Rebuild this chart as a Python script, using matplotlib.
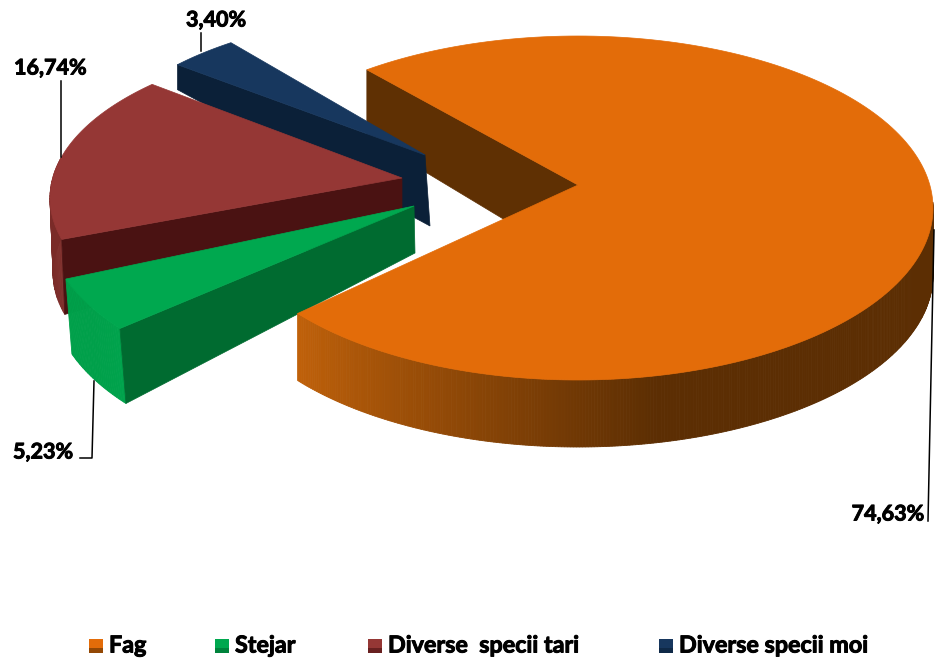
import numpy as np
import matplotlib
matplotlib.use("Agg")
import matplotlib.pyplot as plt
import matplotlib.patheffects as pe
from matplotlib.patches import Polygon, Rectangle
from matplotlib.colors import to_rgb

# data
names = ["Fag", "Stejar", "Diverse  specii tari", "Diverse specii moi"]
values = [74.63, 5.23, 16.74, 3.40]
labels = ["74,63%", "5,23%", "16,74%", "3,40%"]

# look of each slice: top colour, wall colour, rim colour at both ends
top_cols = ["#E36C09", "#00A84F", "#953735", "#17375E"]
wall_cols = ["#5F3003", "#006B30", "#4A1212", "#0B2038"]
rim_cols = [("#C0610A", "#5C2E03"), ("#00A34C", "#00A04A"), ("#80302D", "#7A2B28"), ("#0B2038", "#0B2038")]

# shape of each slice in pixels: apex x,y, ellipse cx,cy,rx,ry, angle shift, rim depth, apex depth, rim drift
shape = [
    (578, 185, 578, 208, 355, 172, 0.0, 67, 79, 0),
    (414, 206, 394, 223, 347, 172, 0.0, 75, 47, 6),
    (402, 178, 395, 198, 345, 160, -4.0, 75, 47, 3),
    (425, 155, 440, 162, 345, 150, 0.8, 25, 71, 0),
]
start_angle = 126.5

fig = plt.figure(figsize=(9.35, 6.6), dpi=100)
ax = fig.add_axes([0, 0, 1, 1])
ax.set_xlim(0, 935)
ax.set_ylim(660, 0)
ax.axis("off")

# angles go clockwise from the start
sweeps = np.array(values) / np.sum(values) * 360
ends = start_angle - np.cumsum(sweeps)
starts = ends + sweeps


def rim_pts(i, angle):
    ax_, ay_, cx, cy, rx, ry, shift, d, ad, dx = shape[i]
    t = np.radians(np.asarray(angle) + shift)
    return cx + rx * np.cos(t), cy - ry * np.sin(t)


def draw_wall(i, angle, z, apex_dx=0):
    ax_, ay_, cx, cy, rx, ry, shift, d, ad, dx = shape[i]
    x, y = rim_pts(i, angle)
    pts = [(ax_, ay_), (x, y), (x + dx, y + d), (ax_ + apex_dx, ay_ + ad)]
    ax.add_patch(Polygon(pts, closed=True, fc=wall_cols[i], ec=wall_cols[i], lw=0.5, zorder=z))


def draw_rim(i, a0, a1, z, n=300):
    d = shape[i][7]
    dx = shape[i][9]
    c0 = np.array(to_rgb(rim_cols[i][0]))
    c1 = np.array(to_rgb(rim_cols[i][1]))
    aa = np.linspace(a0, a1, n + 1)
    for k in range(n):
        x, y = rim_pts(i, aa[k:k + 2])
        f = min(1.0, k / (n * 0.45))
        col = c0 + (c1 - c0) * f
        pts = [(x[0], y[0]), (x[1], y[1]), (x[1] + dx, y[1] + d), (x[0] + dx, y[0] + d)]
        ax.add_patch(Polygon(pts, closed=True, fc=col, ec=col, lw=0.6, zorder=z))


def draw_top(i, a0, a1, z):
    ax_, ay_ = shape[i][:2]
    aa = np.linspace(a0, a1, 200)
    x, y = rim_pts(i, aa)
    pts = [(ax_, ay_)] + list(zip(x, y))
    ax.add_patch(Polygon(pts, closed=True, fc=top_cols[i], ec=top_cols[i], lw=0.5, zorder=z))


# orange back wall sits behind everything
draw_wall(0, starts[0], 1)

# blue
draw_wall(3, starts[3], 2, apex_dx=5)
draw_top(3, ends[3], starts[3], 3)

# red
draw_rim(2, starts[2], starts[2] - 30, 4, n=30)
draw_wall(2, starts[2], 5)
draw_top(2, ends[2], starts[2], 6)

# green
draw_rim(1, starts[1], ends[1], 7, n=30)
draw_wall(1, starts[1], 8, apex_dx=1)
draw_top(1, ends[1], starts[1], 9)

# orange front rim and top go over the green
draw_rim(0, ends[0], 2, 10)
draw_top(0, ends[0], starts[0], 11)

# leader lines
ax.plot([201, 201], [33, 51], color="black", lw=1.1, zorder=12)
ax.plot([61, 61], [81, 157], color="black", lw=1.1, zorder=12)
ax.plot([94, 92, 80], [381, 458, 458], color="black", lw=1.1, zorder=12)
ax.plot([934, 928], [230, 521], color="black", lw=1.1, zorder=12)

thick = [pe.withStroke(linewidth=0.7, foreground="black")]
font = dict(family="Lato", fontweight="bold", color="black", zorder=13, path_effects=thick)
ax.text(924, 514, labels[0], ha="right", va="center", fontsize=15.5, **font)
ax.text(73, 452, labels[1], ha="right", va="center", fontsize=15.5, **font)
ax.text(14, 68, labels[2], ha="left", va="center", fontsize=15.5, **font)
ax.text(186, 20, labels[3], ha="left", va="center", fontsize=15.5, **font)

# legend, spacing is uneven in the original so placed by hand
leg_x = [89, 215, 368, 659]
for i in range(4):
    ax.add_patch(Rectangle((leg_x[i], 639), 14, 14, fc=top_cols[i], ec="none"))
    ax.add_patch(Rectangle((leg_x[i], 648), 14, 5, fc=wall_cols[i], ec="none", alpha=0.6))
    ax.text(leg_x[i] + 20, 646, names[i], ha="left", va="center", fontsize=16.8, **font)

fig.savefig("out.png", dpi=100)
